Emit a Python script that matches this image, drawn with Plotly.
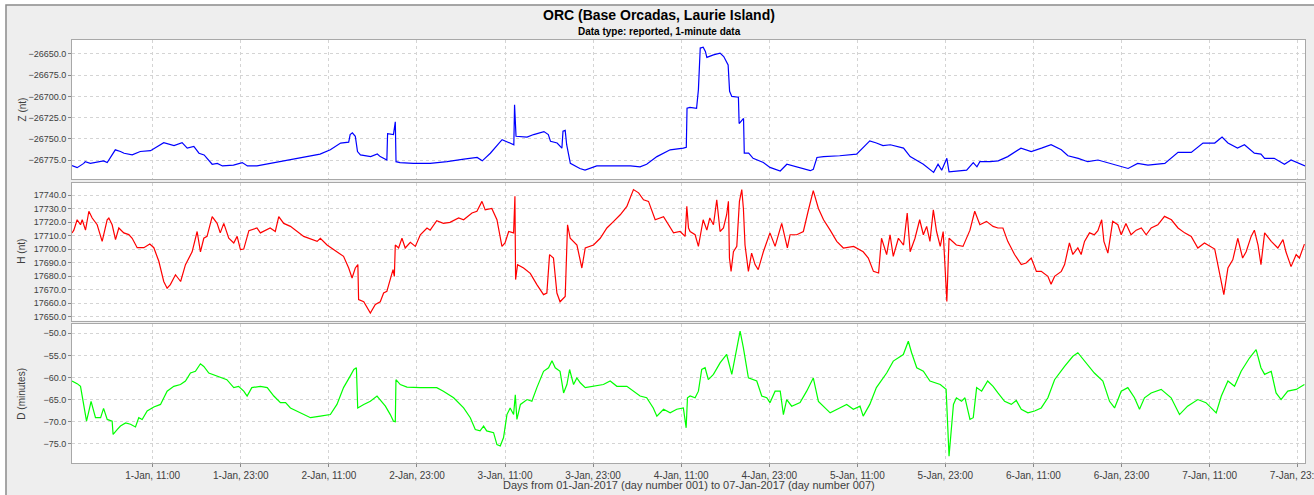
import pandas as pd
import plotly.graph_objects as go

BASE = pd.Timestamp("2017-01-01 00:00")

# ---------------- Z (nT) ----------------
z_hours = [0, 0.7, 1.6, 1.8, 2.5, 4.3, 4.8, 5.9, 6.6, 7.1, 8.2, 9.3, 10.7, 12.5, 13.9, 15.0, 15.7,
           16.6, 17.3, 18.0, 19.1, 19.8, 20.5, 22.0, 23.2, 23.9, 25.2, 27.0, 28.0, 29.3, 31.6, 33.8,
           35.2, 36.6, 37.7, 37.9, 38.2, 38.6, 38.9, 39.3, 40.7, 41.6,
           42.0, 42.9, 43.0, 43.8, 44.05, 44.15, 44.7, 46.5, 48.8, 51.1, 53.4, 55.2, 55.9, 57.0,
           58.6, 60.2, 60.3, 60.5, 62.0, 62.9, 64.3, 64.9, 65.2, 66.1, 66.75, 66.9, 67.2, 67.4,
           67.9, 69.2, 69.9, 71.5, 73.8, 76.1, 77.4, 78.3, 79.7, 81.5, 83.3, 83.7, 83.8,
           84.2, 85.1, 85.35, 85.6, 86.0, 86.3, 86.5, 87.4, 88.3, 88.8, 89.4, 89.6, 89.9, 90.8,
           90.9, 91.3, 91.5, 91.6, 92.2, 92.8, 94.2, 95.1, 96.5, 97.4, 98.7, 100.6, 101.0, 101.5,
           102.4, 104.6, 106.9, 108.7, 109.6, 110.5, 111.5, 113.3, 114.2, 116.0, 117.4, 118.0,
           118.5, 119.2, 119.5, 120.5, 121.9, 122.8, 123.3, 123.7, 125.1,
           126.2, 127.5, 129.3, 130.7, 132.1, 133.4, 134.8, 135.7, 137.1, 138.4, 139.8, 141.1,
           142.5, 143.9, 145.2, 146.6, 148.9, 150.7, 152.5, 154.1, 155.7, 156.7, 157.5, 158.8,
           159.75, 161.1, 162.0, 162.5, 163.8, 165.2, 166.1, 167.9, 168.0]
z_vals = [-26781.7, -26784, -26779, -26777, -26779, -26776, -26778, -26763, -26765, -26767, -26769,
          -26765, -26764, -26754.5, -26758, -26754.5, -26761, -26759, -26767, -26769, -26780,
          -26779, -26782, -26781, -26778, -26782, -26782, -26779, -26778, -26775, -26772, -26768,
          -26763, -26755, -26754, -26745, -26743, -26747, -26765, -26769, -26771, -26768,
          -26771, -26775, -26744, -26745, -26730, -26777, -26778, -26779, -26779, -26777, -26774,
          -26772, -26776, -26767, -26751, -26757, -26710, -26747, -26748, -26745, -26741.5,
          -26745, -26753, -26755, -26761, -26741, -26740, -26757, -26779, -26785, -26787, -26782,
          -26782, -26782, -26783, -26780, -26771, -26763, -26761, -26760, -26714,
          -26713, -26714, -26692, -26643, -26642, -26647, -26654, -26651, -26649, -26653, -26663,
          -26694, -26700, -26701, -26732, -26728, -26726, -26767, -26767, -26773, -26778,
          -26783.7, -26788, -26780, -26783, -26787.6, -26786, -26772, -26771, -26770, -26768,
          -26752.5, -26755, -26758, -26757, -26761, -26771, -26780, -26789.6, -26780, -26787,
          -26773, -26789, -26788, -26787, -26778, -26783, -26777, -26777,
          -26776, -26771, -26761, -26765, -26761, -26757, -26763, -26770, -26773, -26777, -26775,
          -26778, -26782, -26785, -26779, -26781, -26779, -26766, -26766, -26755, -26755, -26748,
          -26755, -26761, -26757, -26767, -26768, -26773, -26773, -26780, -26775, -26782, -26782]

# ---------------- H (nT) ----------------
h_hours = [0, 0.25, 0.7, 1.16, 1.39, 1.84, 2.3, 2.75, 3.43, 4.11, 4.79, 5.02, 5.47, 5.93, 6.38,
           7.06, 7.74, 8.2, 8.88, 9.79, 10.6, 11.15, 11.83, 12.5, 12.96, 13.4, 14.1, 14.8, 15.46,
           16.37, 17.05, 17.5, 17.96, 18.4, 19.1, 19.77, 20.2, 20.68, 21.36, 22.04, 22.5, 22.95,
           23.4, 24.1, 25.2, 25.67, 27.0, 27.7, 28.17, 28.85, 29.76, 31.57, 33.4, 33.84, 34.75,
           36.1, 37.0, 37.7, 38.16, 38.6, 38.95, 39.05, 39.75, 40.65, 41.33, 42.0,
           42.46, 42.9, 43.37, 43.74, 43.92, 44.05, 44.5, 44.96, 45.4, 46.1, 46.78, 47.46, 48.37,
           48.8, 49.7, 50.6, 51.5, 52.68, 53.36, 54.5, 55.17, 55.86, 56.3, 57.2, 57.9, 58.58, 59.0,
           59.5, 60.17, 60.35, 60.44, 60.71, 61.53, 62.44, 63.34, 64.25, 64.7, 65.07, 65.6, 66.07,
           66.5, 67.2, 67.52, 67.88, 68.8, 69.47, 69.93, 71.06, 71.97, 72.88, 73.8, 74.7, 75.6,
           76.5, 77.2, 77.87, 78.55, 79.46, 80.6, 81.96, 82.86, 83.54, 83.77, 84.0,
           84.22, 84.9, 85.35, 86.0, 86.5, 86.9, 87.4, 87.85, 88.3, 88.76, 89.2, 89.44, 89.58,
           89.8, 90.12, 90.58, 90.94, 91.26, 91.48, 91.7, 92.16, 92.6, 93.07, 93.5, 94.2, 95.1,
           95.8, 96.7, 97.47, 97.84, 98.75, 99.65, 100.3, 101.0, 101.7, 102.4, 103.3, 104.2,
           105.1, 106.5, 107.8, 108.5, 109.2, 109.9, 110.3, 111.0, 111.46, 111.9, 112.6, 113.3,
           113.8, 114.2, 114.86, 115.5, 116.0, 116.45, 116.9, 117.36, 117.8, 118.3, 118.7, 119.2,
           119.5, 120.5, 121.4, 122.35, 123.0, 123.7, 124.6, 125.5,
           126.16, 126.84, 127.5, 128.43, 129.34, 130.0, 130.7, 131.4, 132.06, 132.97, 133.4,
           133.88, 134.8, 135.24, 135.9, 136.37, 137.05, 137.5, 137.96, 138.64, 139.3, 139.78,
           140.3, 140.6, 141.14, 141.8, 142.5, 142.96, 143.6, 144.3, 145.0, 145.7, 146.36, 147.04,
           147.95, 148.86, 149.8, 150.7, 151.6, 152.5, 153.4, 154.3, 155.7, 156.35, 156.94, 157.5,
           158.16, 158.84, 159.5, 159.98, 160.66, 161.1, 161.6, 162.0, 162.5, 163.4, 164.3, 165.0,
           165.4, 166.1, 166.8, 167.24, 167.92]
h_vals = [17711.9, 17714, 17721.7, 17718, 17721.7, 17714, 17728, 17723, 17718, 17705.7, 17721.7,
          17723, 17718, 17707, 17715.6, 17712, 17710.7, 17708, 17701, 17701, 17703.7, 17701,
          17691, 17676, 17671, 17673.7, 17681, 17676, 17688.5, 17698, 17713, 17698, 17708,
          17709.4, 17724, 17719, 17712, 17719, 17708, 17704.5, 17709.4, 17699.6, 17700, 17713.6,
          17715.6, 17712, 17715.6, 17713, 17724, 17719, 17716.8, 17709.4, 17705.7, 17708, 17703,
          17698, 17694.6, 17686, 17678.6, 17686, 17688.5, 17662.6, 17661, 17652.7, 17659, 17661,
          17667.5, 17668.7, 17678.6, 17684.8, 17679.8, 17703, 17700.8, 17708, 17700.8, 17705,
          17702, 17710.6, 17715.6, 17714, 17721, 17719, 17719.8, 17723, 17721.7, 17726.7, 17728,
          17735.3, 17729, 17730, 17721.7, 17702, 17704.5, 17713, 17712, 17739, 17677.4, 17688.5,
          17686, 17682, 17673.7, 17666.3, 17667.5, 17695.9, 17693.4, 17667.5, 17661, 17665,
          17718, 17708, 17703, 17686, 17700.8, 17703, 17708, 17715.6, 17720.5, 17725.4, 17731.6,
          17744, 17741.6, 17736.5, 17735.3, 17721.7, 17724, 17712, 17713, 17709.4, 17731.6,
          17715.6,
          17713, 17710.6, 17702, 17721.7, 17714, 17723, 17718, 17736.5, 17713, 17715.6, 17725.4,
          17735.3, 17693.4, 17683.5, 17698, 17702, 17735.3, 17744, 17730, 17703, 17683.5, 17697,
          17688.5, 17684.8, 17698, 17712, 17702, 17719, 17700.8, 17710.6, 17710.6, 17713, 17728,
          17743.2, 17730, 17721.7, 17714, 17705.7, 17700.8, 17702, 17698, 17693.4, 17683.5,
          17682.3, 17708, 17695.9, 17710.6, 17694.6, 17708, 17703, 17726.7, 17698, 17708,
          17721.7, 17710.6, 17716.8, 17705.7, 17729, 17713, 17702, 17713, 17661.3, 17708, 17703,
          17702, 17714, 17728, 17718, 17720.5, 17716.8,
          17715.6, 17715.6, 17705.7, 17696, 17688.5, 17689.7, 17693.4, 17683.5, 17683.5, 17679.8,
          17674, 17679.8, 17683.5, 17688.5, 17704.5, 17696, 17700.8, 17696, 17705.7, 17712,
          17710.6, 17713.6, 17721.7, 17705.7, 17697, 17720.5, 17718, 17710.6, 17719, 17710.6,
          17714, 17715.6, 17710.6, 17715.6, 17718, 17724.2, 17721.7, 17715.6, 17712, 17709.4,
          17700.8, 17704.5, 17700, 17683.5, 17666.3, 17686, 17692, 17708, 17693.4, 17698, 17709.4,
          17714, 17703, 17688.5, 17712, 17705.7, 17700.8, 17707, 17698, 17687, 17696, 17693.4,
          17703.7]

# ---------------- D (minutes) ----------------
d_hours = [0, 0.7, 1.16, 1.6, 1.98, 2.3, 2.6, 3.2, 3.9, 4.3, 4.8, 5.47, 5.6, 6.15, 6.6, 7.3, 7.97,
           8.65, 9.1, 9.56, 10.24, 11.15, 12.06, 12.96, 13.87, 14.78, 15.46, 16.14, 16.82, 17.5,
           17.96, 18.64, 19.77, 21.1, 22.04, 22.7, 23.4, 23.86, 24.5, 25.67, 26.6, 27.5, 28.4,
           29.1, 29.76, 31.1, 32.5, 33.84, 35.2, 36.1, 37.0, 37.9, 38.4, 38.75, 38.93, 39.75,
           40.65, 41.56,
           42.0, 42.7, 43.37, 43.8, 44.05, 44.14, 44.73, 45.64, 47.46, 49.7, 50.6, 52.0, 53.36,
           54.27, 54.95, 55.6, 56.08, 56.5, 57.44, 57.9, 58.35, 58.8, 59.26, 59.7, 60.17, 60.4,
           60.62, 61.1, 62.0, 62.66, 63.34, 64.25, 64.93, 65.4, 65.84, 66.5, 66.98, 67.43, 67.8,
           68.34, 68.79, 69.25, 69.93, 71.06, 72.4, 73.33, 74.24, 75.6, 76.5, 77.4, 78.3, 79.2,
           79.69, 80.6, 81.5, 82.4, 83.3, 83.68, 83.86,
           84.22, 84.9, 85.35, 85.8, 86.26, 86.7, 87.4, 88.3, 89.2, 89.9, 90.35, 91.03, 91.48,
           92.16, 93.3, 93.98, 94.66, 95.1, 95.8, 96.5, 96.93, 97.38, 98.06, 99.2, 100.1, 101.0,
           101.7, 102.4, 103.3, 104.6, 105.55, 106.46, 107.37, 107.8, 108.7, 109.6, 111.0, 111.9,
           113.27, 113.95, 114.4, 115.1, 116.0, 116.9, 118.3, 119.1, 119.5, 120.1, 120.5, 121.2,
           121.67, 122.35, 122.8, 123.26, 123.94, 124.76, 125.5,
           126.16, 127.07, 127.98, 128.66, 129.34, 130.25, 131.15, 132.06, 132.97, 133.88,
           135.24, 136.37, 137.05, 137.96, 139.3, 140.46, 141.37, 142.05, 142.96, 143.86, 144.77,
           145.45, 146.13, 147.04, 148.4, 149.76, 150.9, 152.0, 153.4, 154.5, 155.9, 156.6, 157.5,
           158.4, 159.3, 160.43, 161.34, 162.0, 162.5, 163.4, 164.06, 164.74, 165.65, 166.8,
           167.92]
d_vals = [-60.8, -61.4, -62, -66.1, -69.9, -67.6, -65.4, -69.1, -69.1, -67, -69.5, -69.9, -72.9,
          -71.8, -71, -70.3, -70.6, -71.2, -69.1, -69.5, -67.6, -66.7, -66.1, -63.1, -62, -61.6,
          -60.8, -59, -58.6, -56.9, -57.5, -59, -59.7, -60.5, -62.3, -62, -63.1, -64.2, -62.3,
          -62, -62.3, -64.2, -65.7, -65.7, -66.9, -68, -69.1, -68.75, -68.4, -66.1, -62.3, -59.7,
          -58.2, -57.8, -66.9, -66.1, -65.4, -64.2,
          -65, -66.5, -68.4, -69.9, -70, -60.5, -61.6, -62.2, -62.3, -62.3, -63.1, -64.6, -66.9,
          -69.1, -71.8, -72.1, -71, -72.1, -72.5, -75.2, -75.5, -73.6, -68.4, -66.9, -68.4, -63.9,
          -69.5, -66.1, -65, -65.4, -62.3, -58.6, -57.8, -56.2, -57.8, -58.6, -63.5, -61.6, -58.2,
          -61.6, -60.1, -61.2, -62.3, -62, -61.6, -60.8, -62, -62, -63.1, -64.2, -64.6, -66.9,
          -68.75, -67.2, -68, -67.2, -66.9, -71.4, -64.6,
          -64.2, -64.6, -63.1, -58.2, -57.8, -60.5, -59.3, -56.7, -54.8, -59.3, -55.6, -49.5,
          -53.3, -60.1, -60.8, -64.2, -64.6, -65.7, -63.1, -63.1, -68.4, -65, -66.5, -65.7, -63.1,
          -60.1, -65.4, -66.5, -68, -66.9, -66.1, -67.2, -66.5, -68.75, -66.1, -62.3, -59, -56.3,
          -54.8, -51.8, -54.4, -57.8, -58.6, -60.8, -61.6, -62.7, -77.8, -66.1, -64.6, -65.4,
          -64.6, -69.5, -69.1, -62.3, -63.1, -60.8, -62,
          -63.5, -65.4, -66.1, -65.2, -67.2, -68, -67.6, -66.9, -64.6, -60.5, -57.5, -55.2, -54.4,
          -56.3, -59, -60.8, -65.4, -66.9, -63.1, -62.3, -64.6, -67.2, -64.6, -63.5, -62.7, -64.6,
          -68.4, -66.5, -65, -65.7, -68, -64.2, -60.8, -62, -58.6, -55.6, -53.7, -57.8, -59.3,
          -58.6, -63.5, -65, -63.1, -62.7, -61.6]

z_ticks = [-26775, -26750, -26725, -26700, -26675, -26650]
h_ticks = [17650, 17660, 17670, 17680, 17690, 17700, 17710, 17720, 17730, 17740]
d_ticks = [-75, -70, -65, -60, -55, -50]


def to_time(hours):
    return BASE + pd.to_timedelta(hours, unit="h")


FONT = "Liberation Sans"
GRID = "#d4d4d4"
LINE = "#a8a8a8"

fig = go.Figure()
fig.add_trace(go.Scatter(x=to_time(z_hours), y=z_vals, mode="lines",
                         line=dict(color="#0000ff", width=1.2), xaxis="x", yaxis="y"))
fig.add_trace(go.Scatter(x=to_time(h_hours), y=h_vals, mode="lines",
                         line=dict(color="#ff0000", width=1.2), xaxis="x2", yaxis="y2"))
fig.add_trace(go.Scatter(x=to_time(d_hours), y=d_vals, mode="lines",
                         line=dict(color="#00ff00", width=1.2), xaxis="x3", yaxis="y3"))

xcommon = dict(type="date", range=["2017-01-01 00:00", "2017-01-08 00:00"],
               tick0="2017-01-01 11:00", dtick=43200000, showgrid=True, gridcolor=GRID,
               griddash="dot", gridwidth=1, showline=True, linecolor=LINE, linewidth=1,
               mirror=True, zeroline=False, automargin=False, fixedrange=True)

ycommon = dict(showgrid=True, gridcolor=GRID, griddash="dot", gridwidth=1, showline=True,
               linecolor=LINE, linewidth=1, mirror=True, zeroline=False, ticks="outside",
               ticklen=3, tickcolor="#888888", tickformat=".1f", automargin=False,
               tickfont=dict(family=FONT, size=9, color="#404040"), fixedrange=True)

fig.update_layout(
    width=1314, height=495,
    margin=dict(l=72, r=9, t=40, b=32),
    paper_bgcolor="#eeeeee", plot_bgcolor="#ffffff",
    showlegend=False, hovermode=False,
    template="none",
    xaxis=dict(xcommon, anchor="y", showticklabels=False, ticks=""),
    xaxis2=dict(xcommon, anchor="y2", matches="x", showticklabels=False, ticks=""),
    xaxis3=dict(xcommon, anchor="y3", matches="x", showticklabels=True, ticks="outside",
                ticklen=3, tickcolor="#888888", tickformat="%-d-%b, %H:%M",
                ticklabeloverflow="allow",
                tickfont=dict(family=FONT, size=10, color="#404040")),
    yaxis=dict(ycommon, domain=[0.6714, 1.0], range=[-26797.4, -26633.5], tickvals=z_ticks),
    yaxis2=dict(ycommon, domain=[0.3364, 0.6626], range=[17647, 17749.1], tickvals=h_ticks),
    yaxis3=dict(ycommon, domain=[0.0, 0.3286], range=[-79.36, -47.9], tickvals=d_ticks),
)

ann = [
    dict(text="<b>ORC (Base Orcadas, Laurie Island)</b>", x=(659 - 72) / 1233, y=(463 - 15) / 423,
         font=dict(family=FONT, size=14, color="#000000")),
    dict(text="<b>Data type: reported, 1-minute data</b>", x=(659 - 72) / 1233, y=(463 - 31) / 423,
         font=dict(family=FONT, size=10, color="#000000")),
    dict(text="Days from 01-Jan-2017 (day number 001) to 07-Jan-2017 (day number 007)",
         x=0.5, y=(463 - 485) / 423, font=dict(family=FONT, size=11, color="#404040")),
    dict(text="Z (nt)", x=(22 - 72) / 1233, y=(463 - 109.5) / 423, textangle=-90,
         font=dict(family=FONT, size=10, color="#404040")),
    dict(text="H (nt)", x=(22 - 72) / 1233, y=(463 - 251.7) / 423, textangle=-90,
         font=dict(family=FONT, size=10, color="#404040")),
    dict(text="D (minutes)", x=(22 - 72) / 1233, y=(463 - 393.7) / 423, textangle=-90,
         font=dict(family=FONT, size=10, color="#404040")),
]
for a in ann:
    a.update(xref="paper", yref="paper", showarrow=False, xanchor="center", yanchor="middle")
fig.update_layout(annotations=ann)

# outer chart frame: white outside, gray border line
px = lambda p: (p - 72) / 1233
py = lambda p: (463 - p) / 423
fig.update_layout(shapes=[
    dict(type="rect", xref="paper", yref="paper", x0=px(-5), x1=px(5.5), y0=py(500), y1=py(-5),
         fillcolor="#ffffff", line=dict(width=0), layer="below"),
    dict(type="rect", xref="paper", yref="paper", x0=px(-5), x1=px(1320), y0=py(4.5), y1=py(-5),
         fillcolor="#ffffff", line=dict(width=0), layer="below"),
    dict(type="rect", xref="paper", yref="paper", x0=px(6), x1=px(1330), y0=py(505), y1=py(5),
         fillcolor="rgba(0,0,0,0)", line=dict(color="#8c8c8c", width=1.5), layer="below"),
])

fig.write_html("out.html", config={"displayModeBar": False},
               post_script="document.body.style.margin='0';document.body.style.overflow='hidden';")
